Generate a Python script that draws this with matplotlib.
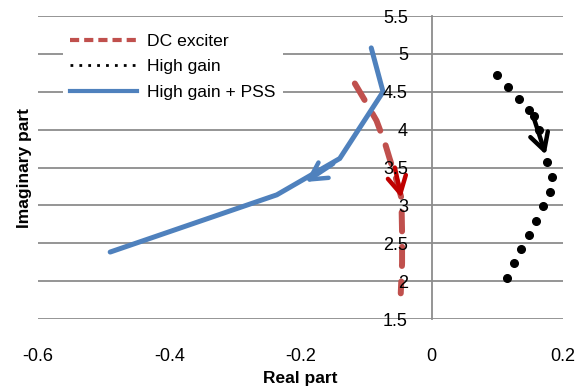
import matplotlib.pyplot as plt
from matplotlib.lines import Line2D

plt.rcParams['font.family'] = ['Liberation Sans', 'DejaVu Sans']

# DC exciter trajectory
dc_x = [-0.117, -0.102, -0.084, -0.071, -0.064, -0.052, -0.046, -0.045, -0.045, -0.047]
dc_y = [4.61, 4.39, 4.12, 3.82, 3.62, 3.29, 3.10, 2.64, 2.24, 1.84]

# High gain trajectory (dots)
hg_x = [0.099, 0.116, 0.133, 0.149, 0.156, 0.164, 0.176, 0.183, 0.181,
        0.170, 0.159, 0.148, 0.137, 0.126, 0.115]
hg_y = [4.72, 4.56, 4.41, 4.26, 4.18, 4.00, 3.57, 3.37, 3.18,
        2.99, 2.80, 2.61, 2.42, 2.235, 2.045]

# High gain + PSS trajectory
pss_x = [-0.092, -0.074, -0.140, -0.236, -0.490]
pss_y = [5.08, 4.50, 3.62, 3.14, 2.385]

# direction arrows (tail -> tip)
dc_arrow = [(-0.056, 3.50), (-0.046, 3.10)]
hg_arrow = [(0.156, 4.15), (0.174, 3.67)]
pss_arrow = [(-0.150, 3.55), (-0.192, 3.31)]

yticks = [1.5, 2, 2.5, 3, 3.5, 4, 4.5, 5, 5.5]
xticks = [-0.6, -0.4, -0.2, 0, 0.2]
tick_labels_x = ['-0.6', '-0.4', '-0.2', '0', '0.2']
tick_labels_y = ['1.5', '2', '2.5', '3', '3.5', '4', '4.5', '5', '5.5']

fig = plt.figure(figsize=(5.85, 3.92), dpi=100)
ax = fig.add_axes([0.065, 0.186, 0.897, 0.773])

for v in yticks:
    ax.axhline(v, color='#8c8c8c', lw=1.3, zorder=0.5)

red = '#C0504D'
blue = '#4F81BD'

ax.plot(dc_x, dc_y, color=red, lw=4.3, dashes=(3.2, 2.6), dash_capstyle='round', zorder=2)
ax.plot(pss_x, pss_y, color=blue, lw=3.6, solid_capstyle='round', solid_joinstyle='miter', zorder=2.2)
ax.plot(hg_x, hg_y, 'o', color='black', ms=5.5, zorder=2.1)

astyle = '->, head_length=0.55, head_width=0.3'
ax.annotate('', xy=dc_arrow[1], xytext=dc_arrow[0],
            arrowprops=dict(arrowstyle=astyle, color='#C00000',
                            lw=3.2, mutation_scale=22, shrinkA=0, shrinkB=0), zorder=3)
ax.annotate('', xy=hg_arrow[1], xytext=hg_arrow[0],
            arrowprops=dict(arrowstyle=astyle, color='black',
                            lw=3.2, mutation_scale=22, shrinkA=0, shrinkB=0), zorder=3)
ax.annotate('', xy=pss_arrow[1], xytext=pss_arrow[0],
            arrowprops=dict(arrowstyle=astyle, color=blue,
                            lw=3.2, mutation_scale=22, shrinkA=0, shrinkB=0), zorder=3)

ax.set_xlim(-0.6, 0.2)
ax.set_ylim(1.5, 5.5)
ax.set_xticks(xticks)
ax.set_xticklabels(tick_labels_x)
ax.set_yticks(yticks)
ax.set_yticklabels(tick_labels_y)

for s in ['top', 'right', 'bottom']:
    ax.spines[s].set_visible(False)
ax.spines['left'].set_position(('data', 0))
ax.spines['left'].set_color('#8c8c8c')
ax.spines['left'].set_linewidth(1.3)
ax.yaxis.set_zorder(3)
ax.tick_params(axis='y', length=0, pad=17, labelsize=13)
ax.tick_params(axis='x', length=0, pad=21, labelsize=13)

ax.set_xlabel('Real part', fontsize=12.5, fontweight='bold', labelpad=4)
ax.set_ylabel('Imaginary part', fontsize=12.5, fontweight='bold')
ax.yaxis.set_label_coords(-0.012, 0.5)

handles = [
    Line2D([], [], color=red, lw=3, dashes=(2.2, 1.2)),
    Line2D([], [], color='black', lw=2, ls=(0, (1, 2.2))),
    Line2D([], [], color=blue, lw=3),
]
labels = ['DC exciter', 'High gain', 'High gain + PSS']
leg = ax.legend(handles, labels, loc='upper left', bbox_to_anchor=(0.048, 0.965),
                frameon=True, fontsize=12.6, handlelength=3.8, handletextpad=0.6,
                labelspacing=0.58, borderpad=0.4, borderaxespad=0)
leg.get_frame().set_edgecolor('none')
leg.get_frame().set_facecolor('white')
leg.get_frame().set_alpha(1)
leg.set_zorder(1)

fig.savefig('out.png', dpi=100)
